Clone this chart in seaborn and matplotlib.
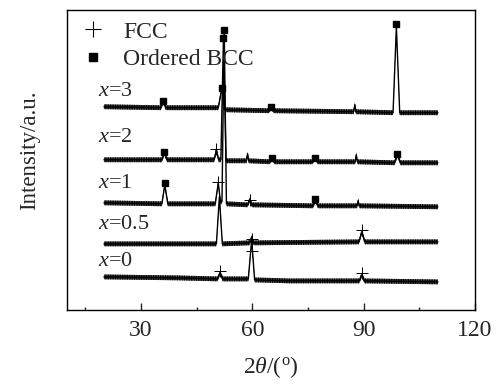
import matplotlib
matplotlib.use("Agg")
import matplotlib.pyplot as plt
from matplotlib.lines import Line2D
import seaborn as sns
import pandas as pd

# ---------------- data ----------------
samples = ["$x$=0", "$x$=0.5", "$x$=1", "$x$=2", "$x$=3"]

tt_x0 = [20, 40, 50.6, 51.3, 52.0, 58.9, 59.8, 60.6, 70, 88.8, 89.5, 90.2, 110]
in_x0 = [33, 32, 31, 37, 31, 31, 70, 30, 29, 29, 35, 29, 28]

tt_x05 = [20, 50.3, 51.1, 51.9, 59.2, 59.8, 60.4, 88.7, 89.5, 90.3, 110]
in_x05 = [66, 66, 113, 66, 67, 72, 67, 68, 78, 68, 68]

tt_x1 = [20, 35.6, 36.4, 37.2, 50.0, 50.8, 51.4, 51.8, 52.4, 53.0, 58.7, 59.3,
         59.9, 76.3, 77.0, 77.7, 88.2, 88.5, 88.8, 110]
in_x1 = [107, 106, 125, 106, 106, 127, 108, 108, 282, 106, 105, 110,
         105, 104, 109, 104, 104, 109, 104, 103]

tt_x2 = [20, 35.6, 36.3, 37.0, 49.7, 50.3, 50.9, 51.5, 52.2, 52.9, 58.4, 58.7,
         59.0, 64.6, 65.3, 66.0, 76.2, 76.9, 77.6, 87.7, 88.0, 88.3, 98.3, 99.1,
         99.9, 110]
in_x2 = [150, 150, 157, 150, 150, 160, 150, 150, 272, 149, 149, 156,
         149, 148, 151, 148, 148, 152, 148, 148, 155, 148, 147, 155,
         147, 147]

tt_x3 = [20, 35.3, 36.0, 36.7, 50.8, 51.8, 52.6, 64.4, 65.1, 65.8, 87.3, 87.6,
         87.9, 97.9, 98.8, 99.7, 110]
in_x3 = [203, 202, 208, 202, 202, 222, 200, 199, 202, 199, 198, 205,
         198, 197, 283, 197, 197]

# phase markers (2theta, intensity)
fcc_tt = [51.3, 59.8, 89.6, 59.8, 89.5, 50.8, 59.3, 50.3]
fcc_in = [39, 59, 37, 71, 80, 128, 110, 161]
bcc_tt = [36.4, 52.4, 77.0, 36.3, 52.2, 65.3, 76.9, 99.1, 36.0, 51.9, 65.1, 98.8]
bcc_in = [127, 280, 111, 158, 272, 152, 152, 156, 209, 222, 203, 286]

xticks_major = [30, 60, 90, 120]
xticks_minor = [15, 45, 75, 105]

# ---------------- style ----------------
sns.set_style("white")
plt.rcParams["font.family"] = ["Liberation Serif", "DejaVu Serif"]
plt.rcParams["mathtext.fontset"] = "custom"
plt.rcParams["mathtext.rm"] = "Liberation Serif"
plt.rcParams["mathtext.it"] = "Liberation Serif:italic"
plt.rcParams["hatch.linewidth"] = 0.8

fig = plt.figure(figsize=(4.99, 3.85), dpi=100)
ax = fig.add_axes([0.134, 0.195, 0.818, 0.780])

noise_half = 2.4  # visual thickness of the noisy trace band
traces = [(tt_x0, in_x0), (tt_x05, in_x05), (tt_x1, in_x1), (tt_x2, in_x2), (tt_x3, in_x3)]
for tt, iv in traces:
    df = pd.DataFrame({"tt": tt, "I": iv})
    lo = [v - noise_half for v in iv]
    hi = [v + noise_half for v in iv]
    ax.fill_between(tt, lo, hi, facecolor="0.25", edgecolor="black",
                    hatch="|||||||", linewidth=0)
    sns.lineplot(data=df, x="tt", y="I", ax=ax, color="black", lw=1.0,
                 estimator=None, sort=False)

ax.plot(fcc_tt, fcc_in, ls="none", marker="+", ms=9, mew=0.7, color="black")
ax.plot(bcc_tt, bcc_in, ls="none", marker="s", ms=4.3, color="black")

label_x = 18.4
label_y = [48, 85, 126, 172, 218]
for s, yy in zip(samples, label_y):
    ax.text(label_x, yy, s, ha="left", va="center", fontsize=16)

ax.set_xlim(10, 120)
ax.set_ylim(0, 300)
ax.set_xticks(xticks_major)
ax.set_xticks(xticks_minor, minor=True)
ax.set_yticks([])
ax.tick_params(axis="x", which="major", direction="in", length=5, width=1.0,
               labelsize=17, pad=7, bottom=True, top=False)
ax.tick_params(axis="x", which="minor", direction="in", length=2.5, width=1.0,
               bottom=True, top=False)
for sp in ax.spines.values():
    sp.set_visible(True)
    sp.set_linewidth(1.0)
    sp.set_color("black")

ax.set_xlabel(r"2$\theta$/($^{\rm o}$)", fontsize=17, labelpad=10)
ax.set_ylabel("Intensity/a.u.", fontsize=16.5)
ax.yaxis.set_label_coords(-0.066, 0.532)

handles = [Line2D([], [], ls="none", marker="+", ms=11, mew=0.8, color="black"),
           Line2D([], [], ls="none", marker="s", ms=5.5, color="black")]
ax.legend(handles, ["FCC", "Ordered BCC"], loc="upper left",
          bbox_to_anchor=(0.035, 0.962), frameon=False, fontsize=17,
          handlelength=1.0, handletextpad=0.77, labelspacing=0.27,
          borderpad=0, borderaxespad=0)

fig.savefig("out.png", dpi=100)
